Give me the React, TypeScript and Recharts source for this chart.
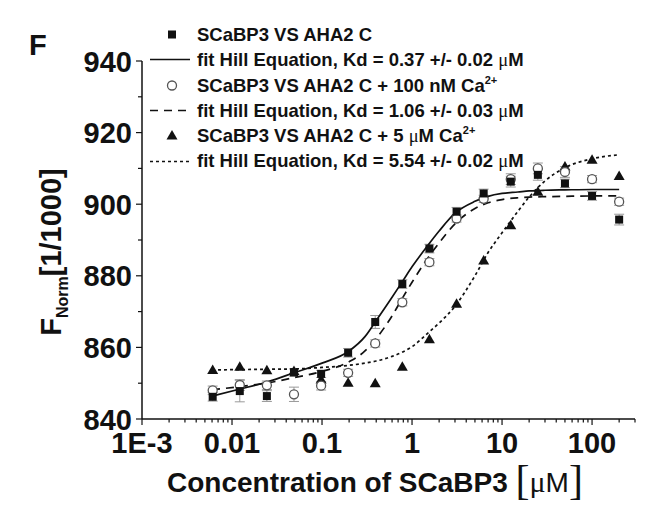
import { ScatterChart, Scatter, XAxis, YAxis, ErrorBar } from "recharts"

// dilution series (µM)
const concentrations = [0.0061, 0.0122, 0.0244, 0.0488, 0.0977, 0.195, 0.39, 0.78, 1.56, 3.125, 6.25, 12.5, 25, 50, 100, 200]

const noCaValues = [846.2, 847.8, 846.4, 853.0, 852.6, 858.5, 867.1, 877.7, 887.6, 897.9, 903.0, 906.3, 908.2, 905.8, 902.3, 895.7]
const noCaErrors = [1.2, 3.0, 1.5, 1.0, 1.0, 1.2, 1.8, 1.2, 1.2, 1.2, 1.2, 1.5, 1.5, 1.2, 1.2, 1.5]
const nM100Values = [848.0, 849.5, 849.4, 846.9, 849.3, 852.9, 861.1, 872.6, 883.8, 896.0, 901.5, 907.0, 910.0, 909.0, 907.0, 900.7]
const nM100Errors = [1.2, 1.5, 1.2, 2.0, 1.2, 1.0, 1.0, 1.0, 1.0, 1.0, 1.0, 1.5, 1.5, 1.5, 1.0, 1.0]
const uM5Values = [853.7, 854.6, 853.6, 853.4, 851.0, 850.1, 850.0, 854.6, 862.3, 872.2, 884.3, 894.1, 903.5, 910.5, 912.4, 907.9]

// fit curves
const fitX = [0.006, 0.012, 0.025, 0.05, 0.1, 0.2, 0.3, 0.4, 0.6, 0.8, 1, 1.5, 2, 3, 5, 7, 10, 15, 20, 30, 50, 100, 200]
const fitNoCa = [846.4, 848.3, 850.4, 853.0, 855.6, 859.0, 863.0, 867.5, 874.0, 878.8, 882.5, 888.5, 892.5, 897.5, 900.8, 902.2, 903.0, 903.4, 903.7, 903.9, 904.0, 904.1, 904.1]
const fitNM100 = [848.2, 849.0, 850.1, 851.6, 853.3, 856.0, 859.0, 862.5, 868.8, 874.2, 878.2, 885.0, 889.2, 894.5, 898.8, 900.4, 901.3, 901.8, 902.0, 902.1, 902.2, 902.3, 902.3]
const fitUM5 = [853.7, 853.8, 853.9, 854.0, 854.4, 855.0, 855.6, 856.2, 857.5, 858.8, 860.2, 864.0, 866.8, 871.5, 880.0, 886.5, 892.0, 898.0, 902.0, 906.5, 910.2, 912.7, 913.8]

const xMajorTicks = [0.001, 0.01, 0.1, 1, 10, 100]
const xTickLabels = ["1E-3", "0.01", "0.1", "1", "10", "100"]
const yTicks = [840, 850, 860, 870, 880, 890, 900, 910, 920, 930, 940]
const yTickLabels = ["840", "", "860", "", "880", "", "900", "", "920", "", "940"]

const xMinorTicks: number[] = []
xMajorTicks.forEach(m => [2, 3, 4, 5, 6, 7, 8, 9].forEach(k => { if (m * k <= 300) xMinorTicks.push(m * k) }))
const xTicks = [...xMajorTicks, ...xMinorTicks].sort((a, b) => a - b)

const toPoints = (xs: number[], ys: number[], errs?: number[]) =>
  xs.map((x, i) => ({ x, y: ys[i], err: errs ? errs[i] : 0 }))

const FONT = "'Liberation Sans', Arial, sans-serif"
const SERIF = "'Liberation Serif', 'Times New Roman', serif"

const XTick = (props: any) => {
  const { x, y, payload } = props
  const idx = xMajorTicks.indexOf(payload.value)
  const major = idx >= 0
  return (
    <g>
      <line x1={x} x2={x} y1={y} y2={y + (major ? 6 : 3.5)} stroke="#111" strokeWidth={1.2} />
      {major && (
        <text x={x} y={y + 34} textAnchor="middle" fontFamily={FONT} fontWeight="bold" fontSize={29} fill="#111">
          {xTickLabels[idx]}
        </text>
      )}
    </g>
  )
}

const YTick = (props: any) => {
  const { x, y, payload } = props
  const label = yTickLabels[yTicks.indexOf(payload.value)]
  return (
    <g>
      <line x1={x - (label ? 6 : 4)} x2={x} y1={y} y2={y} stroke="#111" strokeWidth={1.2} />
      {label && (
        <text x={x - 10} y={y + 10.5} textAnchor="end" fontFamily={FONT} fontWeight="bold" fontSize={29} fill="#111">
          {label}
        </text>
      )}
    </g>
  )
}

const Square = (p: any) => <rect x={p.cx - 4} y={p.cy - 4} width={8} height={8} fill="#111" />
const OpenCircle = (p: any) => <circle cx={p.cx} cy={p.cy} r={4.5} fill="#fff" stroke="#555" strokeWidth={1.3} />
const Triangle = (p: any) => (
  <path d={`M${p.cx},${p.cy - 5.5}L${p.cx + 5.5},${p.cy + 4}L${p.cx - 5.5},${p.cy + 4}Z`} fill="#111" />
)
const NoMarker = () => <g />

const SOLID = { stroke: "#111", strokeWidth: 1.7 }
const DASHED = { stroke: "#111", strokeWidth: 1.7, strokeDasharray: "8 6" }
const DOTTED = { stroke: "#111", strokeWidth: 1.7, strokeDasharray: "3 3" }

const Mu = () => <span style={{ fontFamily: SERIF, fontWeight: "normal" }}>μ</span>
const Sup = ({ children }: any) => (
  <span style={{ fontSize: 11, position: "relative", top: -8, lineHeight: 0 }}>{children}</span>
)

const LegendSymbol = ({ kind }: { kind: string }) => (
  <svg width={49} height={25} style={{ flex: "none" }}>
    {kind === "square" && <Square cx={24} cy={12.5} />}
    {kind === "circle" && <OpenCircle cx={24} cy={12.5} />}
    {kind === "triangle" && <Triangle cx={24} cy={12.5} />}
    {kind === "solid" && <line x1={2} x2={42} y1={12.5} y2={12.5} {...SOLID} />}
    {kind === "dashed" && <line x1={2} x2={42} y1={12.5} y2={12.5} {...DASHED} />}
    {kind === "dotted" && <line x1={2} x2={42} y1={12.5} y2={12.5} {...DOTTED} />}
  </svg>
)

const legendRows = [
  { kind: "square", label: <>SCaBP3 VS AHA2 C</> },
  { kind: "solid", label: <>fit Hill Equation, Kd = 0.37 +/- 0.02 <Mu />M</> },
  { kind: "circle", label: <>SCaBP3 VS AHA2 C + 100 nM Ca<Sup>2+</Sup></> },
  { kind: "dashed", label: <>fit Hill Equation, Kd = 1.06 +/- 0.03 <Mu />M</> },
  { kind: "triangle", label: <>SCaBP3 VS AHA2 C + 5 <Mu />M Ca<Sup>2+</Sup></> },
  { kind: "dotted", label: <>fit Hill Equation, Kd = 5.54 +/- 0.02 <Mu />M</> },
]

export default function App() {
  return (
    <div style={{ position: "relative", width: 665, height: 512, background: "#fff" }}>
      <style>{`body{margin:0}`}</style>
      <ScatterChart width={665} height={512} margin={{ top: 61, right: 30, left: 0, bottom: 0 }}>
        <XAxis
          type="number"
          dataKey="x"
          scale="log"
          domain={[0.001, 300]}
          allowDataOverflow
          ticks={xTicks}
          interval={0}
          height={93}
          tickSize={0}
          tickMargin={0}
          tickLine={false}
          axisLine={{ stroke: "#111", strokeWidth: 1.5 }}
          tick={<XTick />}
        />
        <YAxis
          type="number"
          dataKey="y"
          domain={[840, 940]}
          allowDataOverflow
          ticks={yTicks}
          interval={0}
          width={142}
          tickSize={0}
          tickMargin={0}
          tickLine={false}
          axisLine={{ stroke: "#111", strokeWidth: 1.5 }}
          tick={<YTick />}
        />
        <Scatter data={toPoints(fitX, fitUM5)} shape={NoMarker} line={DOTTED} lineType="joint" lineJointType="monotoneX" isAnimationActive={false} />
        <Scatter data={toPoints(fitX, fitNM100)} shape={NoMarker} line={DASHED} lineType="joint" lineJointType="monotoneX" isAnimationActive={false} />
        <Scatter data={toPoints(fitX, fitNoCa)} shape={NoMarker} line={SOLID} lineType="joint" lineJointType="monotoneX" isAnimationActive={false} />
        <Scatter data={toPoints(concentrations, uM5Values)} shape={Triangle} isAnimationActive={false} />
        <Scatter data={toPoints(concentrations, nM100Values, nM100Errors)} shape={OpenCircle} isAnimationActive={false}>
          <ErrorBar dataKey="err" direction="y" width={5} stroke="#999" strokeWidth={1} />
        </Scatter>
        <Scatter data={toPoints(concentrations, noCaValues, noCaErrors)} shape={Square} isAnimationActive={false}>
          <ErrorBar dataKey="err" direction="y" width={5} stroke="#999" strokeWidth={1} />
        </Scatter>
      </ScatterChart>

      <svg width={665} height={512} style={{ position: "absolute", left: 0, top: 0, pointerEvents: "none" }}>
        <text x={29} y={55} fontFamily={FONT} fontWeight="bold" fontSize={29} fill="#111">F</text>
        <text transform="translate(61, 252) rotate(-90)" textAnchor="middle" fontFamily={FONT} fontWeight="bold" fontSize={29} fill="#111">
          F<tspan fontSize={16} dy={7}>Norm</tspan><tspan dy={-7}>[1/1000]</tspan>
        </text>
        <text x={167} y={492} fontFamily={FONT} fontWeight="bold" fontSize={28} fill="#111">
          Concentration of SCaBP3 <tspan fontFamily={SERIF} fontWeight="normal" fontSize={42} dy={2}>[</tspan>
          <tspan fontFamily={SERIF} fontWeight="normal" fontSize={30} dy={-2}>μ</tspan>
          <tspan fontWeight="normal">M</tspan>
          <tspan fontFamily={SERIF} fontWeight="normal" fontSize={42} dy={2}>]</tspan>
        </text>
      </svg>

      <div style={{ position: "absolute", left: 148, top: 22, fontFamily: FONT, fontWeight: "bold", fontSize: 18.5, color: "#111" }}>
        {legendRows.map((r, i) => (
          <div key={i} style={{ display: "flex", alignItems: "center", height: 25.3, whiteSpace: "nowrap" }}>
            <LegendSymbol kind={r.kind} />
            <span style={{ lineHeight: "25px" }}>{r.label}</span>
          </div>
        ))}
      </div>
    </div>
  )
}
